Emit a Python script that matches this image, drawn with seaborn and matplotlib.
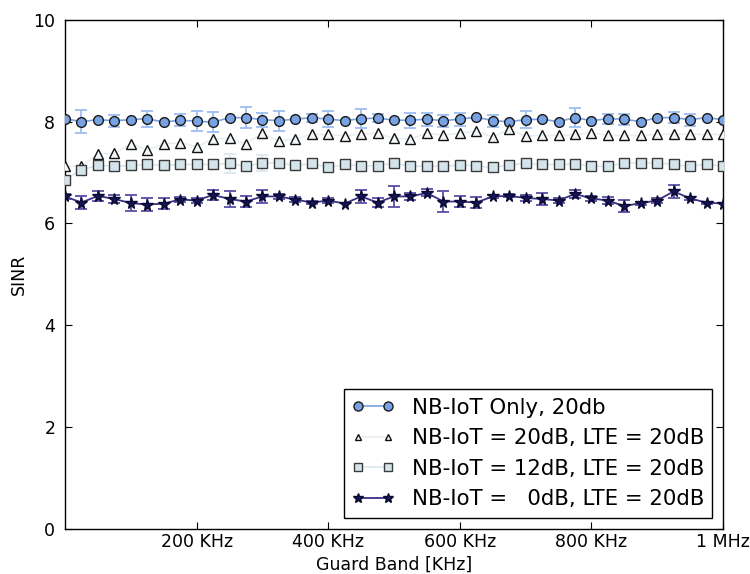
import matplotlib
matplotlib.use("Agg")
import matplotlib.pyplot as plt
from matplotlib.lines import Line2D
import numpy as np
import pandas as pd
import seaborn as sns

# ---------------- data ----------------
guard_khz = [0, 25, 50, 75, 100, 125, 150, 175, 200, 225, 250, 275, 300, 325, 350,
             375, 400, 425, 450, 475, 500, 525, 550, 575, 600, 625, 650, 675, 700,
             725, 750, 775, 800, 825, 850, 875, 900, 925, 950, 975, 1000]

nb_only = [8.06, 8.00, 8.04, 8.02, 8.04, 8.06, 7.99, 8.03, 8.01, 7.99, 8.08, 8.08, 8.04, 8.02, 8.05,
           8.08, 8.05, 8.02, 8.06, 8.07, 8.03, 8.03, 8.05, 8.02, 8.05, 8.09, 8.02, 8.00, 8.04,
           8.05, 8.00, 8.08, 8.02, 8.06, 8.05, 8.00, 8.08, 8.08, 8.04, 8.08, 8.04]
nb_only_err = [0.0, 0.23, 0.0, 0.12, 0.0, 0.16, 0.0, 0.12, 0.20, 0.20, 0.0, 0.21, 0.14, 0.20, 0.0,
               0.08, 0.16, 0.0, 0.18, 0.08, 0.0, 0.15, 0.13, 0.12, 0.13, 0.0, 0.12, 0.0, 0.17,
               0.0, 0.0, 0.19, 0.0, 0.10, 0.11, 0.0, 0.0, 0.11, 0.12, 0.0, 0.0]

nb20 = [7.12, 7.13, 7.36, 7.38, 7.56, 7.45, 7.56, 7.59, 7.51, 7.66, 7.67, 7.57, 7.77, 7.62, 7.66,
        7.75, 7.75, 7.72, 7.76, 7.77, 7.67, 7.66, 7.78, 7.73, 7.78, 7.81, 7.70, 7.85, 7.72,
        7.73, 7.73, 7.75, 7.78, 7.73, 7.73, 7.73, 7.75, 7.75, 7.75, 7.75, 7.75]

nb12 = [6.86, 7.05, 7.14, 7.12, 7.14, 7.16, 7.14, 7.16, 7.16, 7.16, 7.18, 7.12, 7.19, 7.19, 7.14,
        7.18, 7.10, 7.16, 7.13, 7.13, 7.19, 7.12, 7.13, 7.12, 7.15, 7.13, 7.10, 7.15, 7.18,
        7.16, 7.16, 7.17, 7.13, 7.12, 7.19, 7.19, 7.19, 7.16, 7.12, 7.17, 7.12]
nb12_err = [0.0, 0.0, 0.0, 0.0, 0.0, 0.0, 0.0, 0.0, 0.0, 0.0, 0.18, 0.0, 0.15, 0.0, 0.0,
            0.0, 0.0, 0.0, 0.0, 0.0, 0.0, 0.0, 0.0, 0.0, 0.0, 0.0, 0.0, 0.0, 0.0,
            0.0, 0.0, 0.0, 0.0, 0.0, 0.0, 0.0, 0.0, 0.0, 0.0, 0.0, 0.0]

nb0 = [6.53, 6.41, 6.54, 6.48, 6.40, 6.37, 6.39, 6.47, 6.45, 6.56, 6.48, 6.43, 6.53, 6.53, 6.47,
       6.41, 6.45, 6.39, 6.53, 6.41, 6.53, 6.53, 6.60, 6.43, 6.43, 6.41, 6.53, 6.54, 6.50,
       6.48, 6.45, 6.58, 6.49, 6.45, 6.34, 6.40, 6.45, 6.63, 6.49, 6.41, 6.39]
nb0_err = [0.05, 0.13, 0.09, 0.07, 0.15, 0.12, 0.11, 0.05, 0.04, 0.10, 0.15, 0.11, 0.12, 0.05, 0.04,
           0.03, 0.04, 0.0, 0.13, 0.09, 0.20, 0.07, 0.07, 0.20, 0.10, 0.11, 0.03, 0.03, 0.05,
           0.11, 0.04, 0.08, 0.04, 0.07, 0.12, 0.03, 0.04, 0.13, 0.03, 0.02, 0.0]

labels = ["NB-IoT Only, 20db",
          "NB-IoT = 20dB, LTE = 20dB",
          "NB-IoT = 12dB, LTE = 20dB",
          "NB-IoT =   0dB, LTE = 20dB"]

x_ticks = [200, 400, 600, 800, 1000]
x_ticklabels = ["200 KHz", "400 KHz", "600 KHz", "800 KHz", "1 MHz"]
y_ticks = [0, 2, 4, 6, 8, 10]

# ---------------- style ----------------
sns.set_style("ticks")
plt.rcParams.update({
    "font.family": ["DejaVu Sans"],
    "text.color": "black", "axes.labelcolor": "black",
    "xtick.direction": "in", "ytick.direction": "in",
    "xtick.top": True, "ytick.right": True,
    "xtick.major.size": 5, "ytick.major.size": 5,
    "xtick.color": "black", "ytick.color": "black",
    "xtick.labelcolor": "black", "ytick.labelcolor": "black",
    "axes.edgecolor": "black", "axes.linewidth": 1.0,
})

fig = plt.figure(figsize=(7.5, 5.74), dpi=100)
ax = fig.add_axes([65 / 750, 45.5 / 574, 658 / 750, 508.5 / 574])

styles = [
    dict(y=nb_only, err=nb_only_err, marker="o", ms=7, lms=6.5, mfc="#77a2e3", mec="#1a1a1a",
         lc="#77a2e3", ec="#9ebdf0", lw=1.2),
    dict(y=nb20, err=None, marker="^", ms=7, lms=5, mfc="#f3f6f8", mec="#111111",
         lc="#e8eff3", ec="#e8eff3", lw=1.2),
    dict(y=nb12, err=nb12_err, marker="s", ms=7, lms=5.5, mfc="#d3e4eb", mec="#3a3a3a",
         lc="#d9e7ee", ec="#d9e7ee", lw=1.2),
    dict(y=nb0, err=nb0_err, marker="*", ms=8.5, lms=7, mfc="#14145a", mec="#0a0a30",
         lc="#3b2f86", ec="#5a4ea6", lw=1.3),
]

handles = []
for lab, st in zip(labels, styles):
    df = pd.DataFrame({"x": guard_khz, "y": st["y"]})
    if st["err"] is not None:
        e = np.array(st["err"])
        m = e > 0
        ax.errorbar(np.array(guard_khz)[m], np.array(st["y"])[m], yerr=e[m],
                    fmt="none", ecolor=st["ec"], elinewidth=1.3, capsize=4,
                    capthick=1.3, zorder=2)
    sns.lineplot(data=df, x="x", y="y", ax=ax, estimator=None, sort=False,
                 errorbar=None, color=st["lc"], linewidth=st["lw"],
                 marker=st["marker"], markersize=st["ms"],
                 markerfacecolor=st["mfc"], markeredgecolor=st["mec"],
                 markeredgewidth=1.0, zorder=3, legend=False)
    handles.append(Line2D([0], [0], color=st["lc"], linewidth=st["lw"],
                          marker=st["marker"], markersize=st["lms"],
                          markerfacecolor=st["mfc"], markeredgecolor=st["mec"],
                          markeredgewidth=1.0))

ax.set_xlim(0, 1000)
ax.set_ylim(0, 10)
ax.set_xticks(x_ticks)
ax.set_xticklabels(x_ticklabels, fontsize=12.5)
ax.set_yticks(y_ticks)
ax.set_yticklabels([str(v) for v in y_ticks], fontsize=12.5)
ax.tick_params(axis="x", pad=3)
ax.tick_params(axis="y", pad=7)
ax.set_xlabel("Guard Band [KHz]", fontsize=12.5, labelpad=3.5)
ax.set_ylabel("SINR", fontsize=12.5, labelpad=4)

leg = ax.legend(handles, labels, loc="lower right", fontsize=15.3, numpoints=2,
                frameon=True, fancybox=False, framealpha=1, edgecolor="black",
                handlelength=2.0, borderaxespad=0.5)
leg.get_frame().set_linewidth(1.0)

fig.savefig("out.png", dpi=100)
